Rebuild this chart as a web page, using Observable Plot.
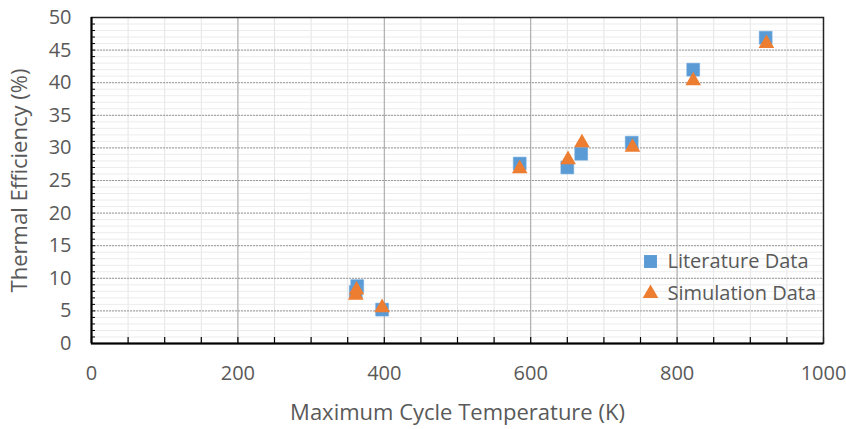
<!DOCTYPE html>
<html>
<head>
<meta charset="utf-8">
<script src="https://cdn.jsdelivr.net/npm/d3@7"></script>
<script src="https://cdn.jsdelivr.net/npm/@observablehq/plot@0.6"></script>
<style>
  html, body { margin: 0; padding: 0; background: #fff; }
  #chart { width: 846px; height: 429px; }
  svg { font-family: "Open Sans", sans-serif; }
</style>
</head>
<body>
<div id="chart"></div>
<script>
// Data
const litTemp = [363, 361, 397, 585, 650, 669, 738, 822, 921];
const litEff  = [8.8, 7.9, 5.2, 27.6, 27.0, 29.1, 30.8, 42.0, 46.9];
const simTemp = [362, 361, 397, 585, 651, 670, 739, 822, 922];
const simEff  = [8.2, 7.4, 5.5, 26.8, 28.2, 30.8, 30.1, 40.3, 46.0];

const xTicks = [0, 200, 400, 600, 800, 1000];
const yTicks = [0, 5, 10, 15, 20, 25, 30, 35, 40, 45, 50];
const xMinor = d3.range(0, 1001, 50);
const yMinor = d3.range(0, 51, 1);
const seriesNames = ["Literature Data", "Simulation Data"];

const lit = litTemp.map((t, i) => ({t, e: litEff[i]}));
const sim = simTemp.map((t, i) => ({t, e: simEff[i]}));

const blue = "#5B9BD5", orange = "#ED7D31", textCol = "#595959";

const chart = Plot.plot({
  width: 846,
  height: 429,
  marginLeft: 91,
  marginRight: 23,
  marginTop: 17,
  marginBottom: 86,
  style: {fontSize: "20px", color: textCol, fontFamily: "Open Sans, sans-serif"},
  x: {domain: [0, 1000]},
  y: {domain: [0, 50]},
  marks: [
    // minor grid
    Plot.ruleX(xMinor, {stroke: "#e4e4e4", strokeWidth: 1}),
    Plot.ruleY(yMinor, {stroke: "#ececec", strokeWidth: 1}),
    // major grid
    Plot.ruleY(yTicks, {stroke: "#9a9a9a", strokeWidth: 1, strokeDasharray: "2,1"}),
    Plot.ruleX(xTicks.slice(1, -1), {stroke: "#a6a6a6", strokeWidth: 1}),
    // minor ticks (inward)
    Plot.axisX({ticks: xMinor, tickSize: -6, tickFormat: () => "", stroke: "#000", strokeWidth: 1.2, label: null}),
    Plot.axisY({ticks: yMinor, tickSize: -4, tickFormat: () => "", stroke: "#000", strokeWidth: 1, label: null}),
    // tick labels
    Plot.axisX({ticks: xTicks, tickSize: 0, tickPadding: 22, fontSize: 20, fill: textCol, tickFormat: d3.format("d"),
      label: null}),
    Plot.axisY({ticks: yTicks, tickSize: 0, tickPadding: 20, fontSize: 20, fill: textCol, tickFormat: d3.format("d"),
      label: null}),
    Plot.axisX({ticks: [], tickSize: 0, fontSize: 22, fill: textCol,
      label: "Maximum Cycle Temperature (K)", labelAnchor: "center", labelOffset: 76, labelArrow: "none"}),
    Plot.axisY({ticks: [], tickSize: 0, fontSize: 22, fill: textCol,
      label: "Thermal Efficiency (%)", labelAnchor: "center", labelOffset: 80, labelArrow: "none"}),
    Plot.frame({stroke: "#222", strokeWidth: 1.5}),
    Plot.ruleY([0], {stroke: "#000", strokeWidth: 2}),
    Plot.ruleX([0], {stroke: "#000", strokeWidth: 2}),
    // data
    Plot.dot(lit, {x: "t", y: "e", symbol: "square", r: 7.3, fill: blue, stroke: "#6fa8dc", strokeWidth: 0.5}),
    Plot.dot(sim, {x: "t", y: "e", symbol: "triangle", r: 5.8, fill: orange}),
    // legend
    Plot.dot([seriesNames[0]], {frameAnchor: "top-left", dx: 559, dy: 244, symbol: "square", r: 7.3, fill: blue}),
    Plot.dot([seriesNames[1]], {frameAnchor: "top-left", dx: 559, dy: 276, symbol: "triangle", r: 5.8, fill: orange}),
    Plot.text([seriesNames[0]], {text: d => d, frameAnchor: "top-left", lineAnchor: "middle", dx: 576, dy: 244, textAnchor: "start", fontSize: 20, fill: textCol}),
    Plot.text([seriesNames[1]], {text: d => d, frameAnchor: "top-left", lineAnchor: "middle", dx: 576, dy: 276, textAnchor: "start", fontSize: 20, fill: textCol})
  ]
});
document.getElementById("chart").appendChild(chart);
</script>
</body>
</html>
